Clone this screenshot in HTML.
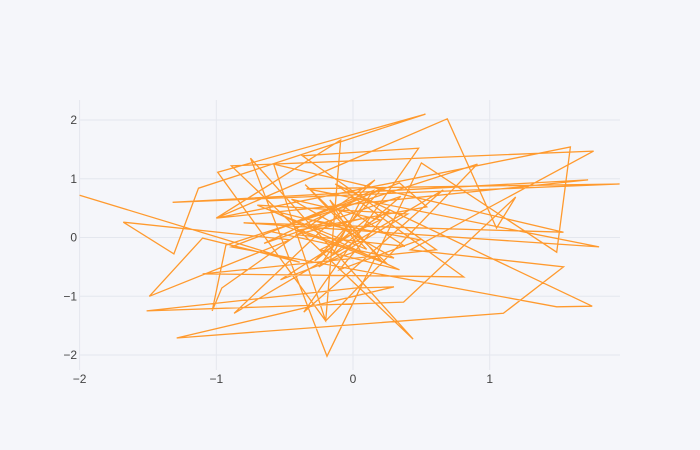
<!DOCTYPE html>
<html><head><meta charset="utf-8"><style>
html,body{margin:0;padding:0;background:#f5f6fa;}
svg{display:block;font-family:"Liberation Sans",sans-serif;}
</style></head><body>
<svg id="chart" width="700" height="450" xmlns="http://www.w3.org/2000/svg">
<rect x="0" y="0" width="700" height="450" fill="#f5f6fa"/>
<g id="grid"></g>
<g id="ticks"></g>
<path id="series" fill="none" stroke="#ff9a2e" stroke-width="1.3" stroke-linejoin="miter"/>
</svg>
<script>
const xTicks=[-2,-1,0,1];
const yTicks=[-2,-1,0,1,2];
const xTickLabels=["−2","−1","0","1"];
const yTickLabels=["−2","−1","0","1","2"];
const xValues=[-2.00,-0.39,-1.10,-1.49,-0.46,-1.68,-1.31,-1.13,0.53,-0.99,-0.20,-0.09,-1.00,0.69,1.05,1.19,0.37,-1.51,0.02,0.30,-1.29,1.10,1.54,0.42,1.76,-0.89,0.44,-0.75,-0.19,0.50,1.49,1.59,-1.00,1.72,-1.32,1.95,-0.34,1.80,-0.80,1.54,-0.58,-0.20,0.91,-0.93,-1.03,-0.96,0.16,-0.87,0.66,-0.36,0.48,-0.37,0.61,-1.10,0.81,-0.13,1.75,1.49,-0.89,0.34,0.54,-0.39,0.20,-0.17,0.05,-0.53,0.27,-0.10,0.49,-0.31,-0.02,-0.61,0.34,-0.24,0.20,-0.45,0.30,-0.60,0.15,-0.25,0.40,-0.70,0.10,-0.35,0.25,-0.50,0.05,-0.15,0.35,-0.65,0.22,-0.28,0.12,-0.42,0.38,-0.05];
const yValues=[0.72,-0.42,-0.01,-1.00,-0.04,0.26,-0.28,0.84,2.10,1.11,-1.42,1.66,0.33,2.02,0.16,0.69,-1.10,-1.25,-0.86,-0.84,-1.71,-1.29,-0.50,-0.21,1.47,1.22,-1.73,1.35,-2.02,1.27,-0.25,1.54,0.33,0.98,0.60,0.91,0.83,-0.16,0.25,0.09,1.25,-1.42,1.25,-0.13,-1.25,-0.86,0.98,-1.29,0.81,-1.27,1.52,1.39,-0.21,-0.62,-0.67,0.91,-1.17,-1.18,-0.16,0.93,0.52,0.13,-0.38,0.64,-0.21,-0.72,0.47,-0.55,-0.04,0.30,0.13,0.47,-0.55,-0.21,0.30,0.65,-0.35,0.10,0.80,-0.50,0.40,0.55,-0.20,0.90,-0.45,0.20,0.60,-0.30,0.70,-0.10,0.85,-0.40,0.35,0.05,-0.15,0.50];
const X0=80,X1=620,Y0=100,Y1=370;
const xs=v=>353+v*136.7;
const ys=v=>237.5-v*58.75;
const NS="http://www.w3.org/2000/svg";
const grid=document.getElementById('grid'),ticks=document.getElementById('ticks');
xTicks.forEach((t,i)=>{
 const l=document.createElementNS(NS,'line');
 l.setAttribute('x1',xs(t));l.setAttribute('x2',xs(t));l.setAttribute('y1',Y0);l.setAttribute('y2',Y1);
 l.setAttribute('stroke','#e4e7ee');l.setAttribute('stroke-width','1');
 
 
 grid.appendChild(l);
 const tx=document.createElementNS(NS,'text');
 tx.setAttribute('x',xs(t));tx.setAttribute('y',383);tx.setAttribute('text-anchor','middle');
 tx.setAttribute('font-size','12');tx.setAttribute('fill','#444');tx.textContent=xTickLabels[i];
 
 
 ticks.appendChild(tx);
});
yTicks.forEach((t,i)=>{
 const l=document.createElementNS(NS,'line');
 l.setAttribute('x1',X0);l.setAttribute('x2',X1);l.setAttribute('y1',ys(t));l.setAttribute('y2',ys(t));
 l.setAttribute('stroke','#e4e7ee');l.setAttribute('stroke-width','1');
 
 
 grid.appendChild(l);
 const tx=document.createElementNS(NS,'text');
 tx.setAttribute('x',77);tx.setAttribute('y',ys(t)+4);tx.setAttribute('text-anchor','end');
 tx.setAttribute('font-size','12');tx.setAttribute('fill','#444');tx.textContent=yTickLabels[i];
 
 
 ticks.appendChild(tx);
});
let d='';
xValues.forEach((v,i)=>{d+=(i?'L':'M')+xs(v).toFixed(1)+','+ys(yValues[i]).toFixed(1);});
document.getElementById('series').setAttribute('d',d);
</script>
</body></html>
